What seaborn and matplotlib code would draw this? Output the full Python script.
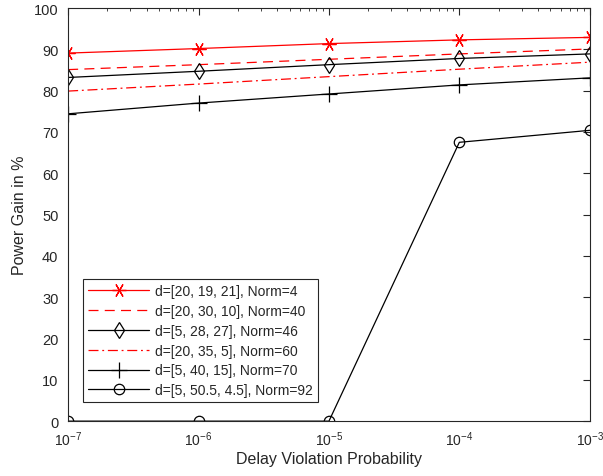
import pandas as pd
import seaborn as sns
import matplotlib.pyplot as plt

sns.set_style("white")
plt.rcParams['font.family'] = ['Liberation Sans', 'DejaVu Sans']

prob = [1e-7, 1e-6, 1e-5, 1e-4, 1e-3]
labels = ["d=[20, 19, 21], Norm=4", "d=[20, 30, 10], Norm=40", "d=[5, 28, 27], Norm=46",
          "d=[20, 35, 5], Norm=60", "d=[5, 40, 15], Norm=70", "d=[5, 50.5, 4.5], Norm=92"]
gain_4 = [89.1, 90.2, 91.4, 92.3, 92.9]
gain_40 = [85.1, 86.3, 87.6, 88.9, 90.1]
gain_46 = [83.2, 84.7, 86.3, 87.8, 88.9]
gain_60 = [79.9, 81.6, 83.4, 85.2, 86.9]
gain_70 = [74.4, 77.0, 79.2, 81.4, 83.1]
gain_92 = [0, 0, 0, 67.5, 70.4]

series = [gain_4, gain_40, gain_46, gain_60, gain_70, gain_92]
colors = ["red", "red", "black", "red", "black", "black"]
markers = [(6, 2, 90), None, "d", None, "+", "o"]
msizes = [10, 0, 8.5, 0, 11, 7.5]
styles = ["-", (0, (8, 5)), "-", (0, (8, 3, 1.5, 3)), "-", "-"]

fig, ax = plt.subplots(figsize=(6.03, 4.77), dpi=100)
fig.subplots_adjust(left=0.113, right=0.978, bottom=0.115, top=0.981)

for vals, lab, c, m, ms, ls in zip(series, labels, colors, markers, msizes, styles):
    df = pd.DataFrame({"p": prob, "g": vals})
    sns.lineplot(data=df, x="p", y="g", ax=ax, color=c, marker=m, linestyle=ls,
                 linewidth=0.9, markersize=ms,
                 markerfacecolor="none", markeredgecolor=c, markeredgewidth=0.9,
                 label=lab)

ax.set_xscale("log")
ax.set_xlim(1e-7, 1e-3)
ax.set_ylim(0, 100)
ax.set_yticks(range(0, 101, 10))
ax.set_xticks(prob)
ax.tick_params(direction="in", which="both", top=True, right=True, labelsize=10.5, colors="#262626")
ax.tick_params(axis="x", which="major", length=5, pad=6, labelsize=10)
ax.tick_params(axis="y", which="major", length=5, pad=7)
ax.tick_params(which="minor", length=2.5)
for s in ax.spines.values():
    s.set_color("#262626")
    s.set_linewidth(0.8)
ax.set_xlabel("Delay Violation Probability", fontsize=11.5, color="#262626", labelpad=2)
ax.set_ylabel("Power Gain in %", fontsize=11.5, color="#262626", labelpad=5)

leg = ax.legend(loc="lower left", bbox_to_anchor=(0.029, 0.046), borderaxespad=0, fontsize=10,
                handlelength=4.4, labelspacing=0.42, borderpad=0.35, handletextpad=0.4,
                fancybox=False, framealpha=1)
leg.get_frame().set_edgecolor("#262626")
leg.get_frame().set_linewidth(0.8)

plt.savefig("out.png")
